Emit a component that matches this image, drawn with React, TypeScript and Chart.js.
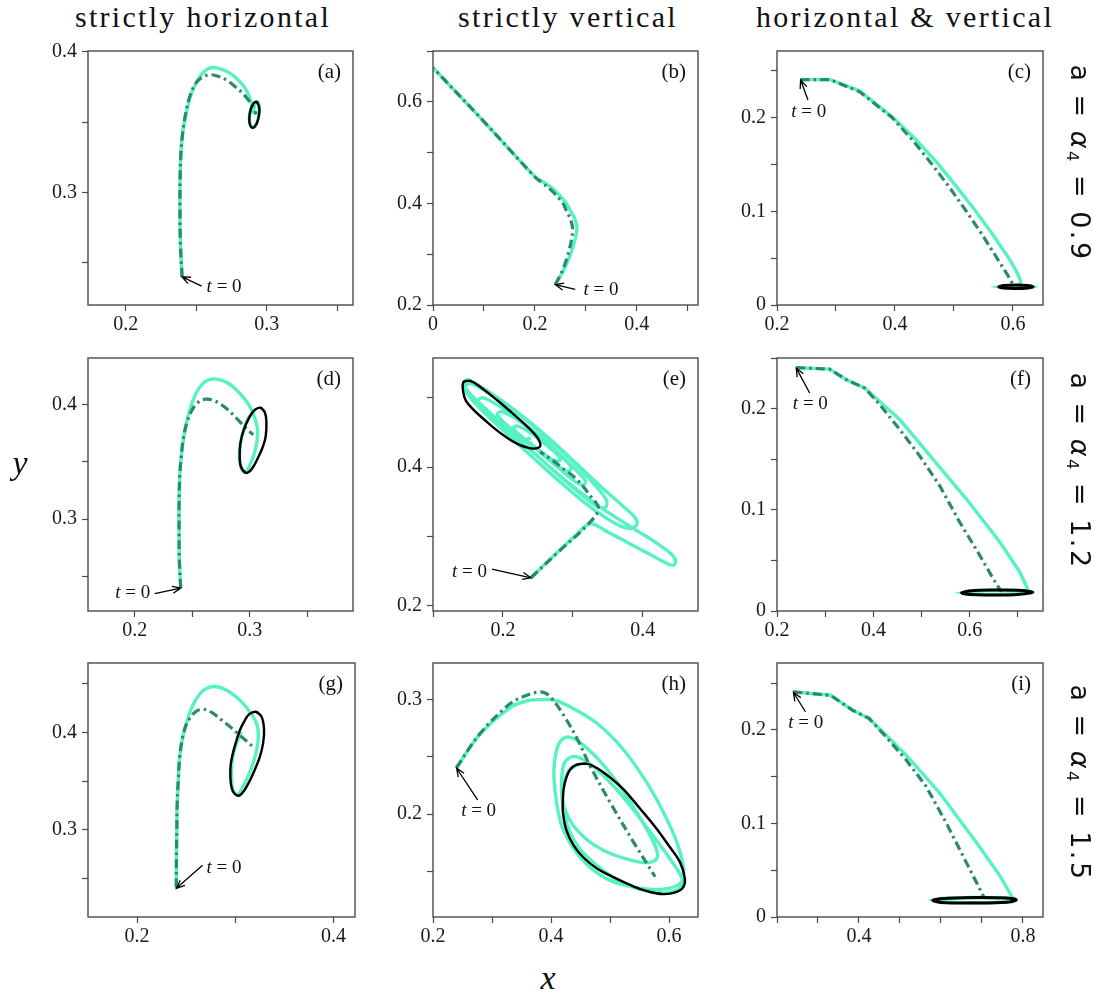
import React, { useEffect, useRef } from 'react';
import { Chart, registerables } from 'chart.js';
Chart.register(...registerables);

type P = [number, number];

// ---------------- data ----------------
const aLight: P[] = [[0.240,0.240],[0.2388,0.265],[0.2385,0.29],[0.2386,0.31],[0.2392,0.328],[0.2405,0.343],[0.2428,0.356],[0.2462,0.369],[0.2505,0.379],[0.2555,0.386],[0.2605,0.3888],[0.2665,0.3882],[0.273,0.3855],[0.279,0.381],[0.2842,0.375],[0.2878,0.368],[0.2895,0.362],[0.2905,0.357],[0.2915,0.3625],[0.2935,0.3645],[0.2948,0.3595],[0.2935,0.3510],[0.2912,0.3468],[0.2888,0.3470],[0.2877,0.3525],[0.2892,0.3605],[0.2922,0.3640]];
const aDark: P[] = [[0.240,0.240],[0.2388,0.265],[0.2385,0.29],[0.2386,0.31],[0.2392,0.328],[0.2405,0.343],[0.2425,0.356],[0.2455,0.3685],[0.2495,0.3775],[0.2545,0.3822],[0.2598,0.3838],[0.2655,0.3828],[0.2715,0.3800],[0.2775,0.3755],[0.2835,0.3700],[0.2880,0.3645],[0.2910,0.3595],[0.2925,0.3555]];
const aCycle: P[] = [[0.2929,0.3645],[0.2945,0.3615],[0.2948,0.3575],[0.2938,0.3515],[0.2918,0.3472],[0.2895,0.3462],[0.2880,0.3490],[0.2877,0.3535],[0.2886,0.3590],[0.2905,0.3632],[0.2929,0.3645],[0.2945,0.3615]];

const bLight: P[] = [[0.24,0.24],[0.256,0.268],[0.27,0.30],[0.279,0.33],[0.2825,0.35],[0.279,0.368],[0.27,0.385],[0.262,0.40],[0.24,0.425],[0.22,0.44],[0.2,0.453],[0.1,0.561],[0.0,0.667]];
const bDark: P[] = [[0.24,0.24],[0.254,0.268],[0.265,0.30],[0.272,0.33],[0.274,0.35],[0.27,0.368],[0.262,0.385],[0.255,0.40],[0.233,0.425],[0.215,0.44],[0.2,0.452],[0.1,0.561],[0.0,0.667]];

const cLight: P[] = [[0.240,0.2405],[0.290,0.2405],[0.340,0.2285],[0.3966,0.2000],[0.436,0.1760],[0.474,0.1500],[0.506,0.1250],[0.537,0.1000],[0.566,0.0750],[0.593,0.0500],[0.606,0.0360],[0.613,0.0260],[0.613,0.0215],[0.605,0.0200],[0.585,0.0198],[0.578,0.0192],[0.585,0.0184],[0.610,0.0180],[0.630,0.0186],[0.634,0.0194],[0.628,0.0205]];
const cDark: P[] = [[0.240,0.2405],[0.290,0.2405],[0.340,0.2275],[0.395,0.2000],[0.431,0.1750],[0.463,0.1500],[0.493,0.1250],[0.521,0.1000],[0.548,0.0750],[0.573,0.0500],[0.590,0.0330],[0.602,0.0200]];
const cCycle: P[] = [[0.576,0.0194],[0.585,0.0208],[0.605,0.0214],[0.625,0.0208],[0.634,0.0196],[0.625,0.0182],[0.605,0.0176],[0.585,0.0180],[0.576,0.0194],[0.585,0.0208]];

const dLight: P[] = [[0.240,0.240],[0.2388,0.265],[0.2386,0.29],[0.2386,0.315],[0.2392,0.338],[0.2405,0.355],[0.2428,0.372],[0.2462,0.389],[0.2505,0.403],[0.2555,0.4135],[0.2615,0.4200],[0.2680,0.4222],[0.2750,0.4212],[0.2820,0.4180],[0.2885,0.4125],[0.2950,0.4055],[0.3005,0.3975],[0.3045,0.3880],[0.3068,0.3780],[0.3065,0.3690],[0.3045,0.3590],[0.3010,0.3490],[0.2975,0.3420],[0.2950,0.3410],[0.2925,0.3450],[0.2912,0.3530],[0.2915,0.3630],[0.2935,0.3730],[0.2965,0.3830],[0.3000,0.3905]];
const dDark: P[] = [[0.240,0.240],[0.2388,0.265],[0.2386,0.29],[0.2386,0.315],[0.2392,0.338],[0.2405,0.355],[0.2425,0.372],[0.2460,0.386],[0.2507,0.3965],[0.2560,0.4025],[0.2620,0.4045],[0.2681,0.4037],[0.2740,0.4005],[0.2797,0.3965],[0.2855,0.3910],[0.2913,0.3850],[0.2970,0.3790],[0.3030,0.3735]];
const dCycle: P[] = [[0.3093,0.3971],[0.3130,0.3935],[0.3145,0.3850],[0.3139,0.3720],[0.3110,0.3620],[0.3070,0.3530],[0.3014,0.3432],[0.2971,0.3403],[0.2928,0.3447],[0.2913,0.3519],[0.2919,0.3663],[0.2948,0.3778],[0.3000,0.3893],[0.3043,0.3951],[0.3093,0.3971],[0.3130,0.3935]];

const eLight: P[] = [[0.240,0.240],[0.275,0.274],[0.305,0.302],[0.325,0.318],
[0.350,0.306],[0.380,0.290],[0.410,0.274],[0.432,0.262],[0.444,0.258],[0.447,0.265],[0.440,0.275],
[0.420,0.290],[0.395,0.306],[0.365,0.325],[0.335,0.345],[0.300,0.372],[0.265,0.402],[0.230,0.434],[0.195,0.466],[0.165,0.494],[0.148,0.512],[0.144,0.522],[0.150,0.526],
[0.170,0.515],[0.200,0.495],[0.235,0.468],[0.270,0.438],[0.305,0.405],[0.340,0.372],[0.370,0.345],[0.388,0.328],[0.392,0.318],[0.385,0.312],[0.370,0.314],
[0.345,0.328],[0.315,0.350],[0.280,0.380],[0.245,0.412],[0.210,0.444],[0.178,0.474],[0.155,0.498],[0.146,0.513],[0.152,0.521],
[0.175,0.510],[0.205,0.490],[0.240,0.462],[0.275,0.432],[0.310,0.398],[0.335,0.370],[0.348,0.352],[0.347,0.342],[0.335,0.343],
[0.310,0.362],[0.280,0.388],[0.245,0.420],[0.210,0.450],[0.185,0.472],[0.168,0.488],[0.165,0.497],[0.172,0.500],
[0.195,0.488],[0.225,0.466],[0.258,0.440],[0.288,0.412],[0.310,0.390],[0.318,0.380],[0.315,0.374],[0.302,0.380],
[0.278,0.400],[0.250,0.424],[0.222,0.447],[0.200,0.466],[0.192,0.476],[0.197,0.480],
[0.218,0.470],[0.245,0.450],[0.272,0.427],[0.292,0.407],[0.298,0.398],[0.292,0.394],[0.278,0.402],
[0.255,0.420],[0.232,0.440],[0.218,0.452],[0.216,0.458],[0.222,0.459],
[0.240,0.449],[0.262,0.432],[0.278,0.418],[0.282,0.410],[0.272,0.410],[0.255,0.422],[0.240,0.434],[0.234,0.440],[0.240,0.442]];
const eDark: P[] = [[0.240,0.240],[0.280,0.278],[0.320,0.3155],[0.3367,0.3394],[0.3248,0.3585],[0.3057,0.3823],[0.2850,0.3985],[0.2724,0.4086],[0.2533,0.4220]];
const eCycle: P[] = [[0.1438,0.5232],[0.1533,0.5246],[0.1700,0.5140],[0.1914,0.4969],[0.2100,0.4810],[0.2295,0.4635],[0.2440,0.4490],[0.2510,0.4396],[0.2533,0.4301],[0.2438,0.4267],[0.2320,0.4290],[0.2200,0.4339],[0.2050,0.4430],[0.1914,0.4530],[0.1740,0.4680],[0.1581,0.4826],[0.1470,0.4960],[0.1430,0.5100],[0.1438,0.5232],[0.1533,0.5246]];

const fLight: P[] = [[0.240,0.2405],[0.309,0.2390],[0.344,0.2285],[0.382,0.2203],[0.4547,0.1892],[0.5239,0.1499],[0.5931,0.1106],[0.6623,0.0681],[0.7038,0.0386],[0.7190,0.0230],[0.7200,0.0195],[0.700,0.0168],[0.650,0.0162],[0.600,0.0165],[0.585,0.0180],[0.600,0.0196],[0.650,0.0205],[0.700,0.0202],[0.728,0.0188]];
const fDark: P[] = [[0.240,0.2405],[0.309,0.2390],[0.344,0.2285],[0.382,0.2203],[0.4131,0.2039],[0.4547,0.1794],[0.4962,0.1532],[0.5377,0.1237],[0.5792,0.0877],[0.6208,0.0550],[0.6484,0.0321],[0.6657,0.0190]];
const fCycle: P[] = [[0.583,0.0180],[0.600,0.0198],[0.650,0.0207],[0.700,0.0204],[0.731,0.0185],[0.700,0.0164],[0.650,0.0158],[0.600,0.0162],[0.583,0.0180],[0.600,0.0198]];

const gLight: P[] = [[0.240,0.2407],[0.2401,0.2739],[0.2405,0.300],[0.2408,0.3247],[0.2420,0.352],[0.2435,0.3756],[0.2465,0.395],[0.2503,0.4095],[0.2550,0.4240],[0.2605,0.4349],[0.2670,0.4430],[0.2741,0.4468],[0.2830,0.4468],[0.2912,0.4434],[0.3000,0.4375],[0.3082,0.4298],[0.3140,0.4225],[0.3184,0.4163],[0.3222,0.4080],[0.3235,0.3993],[0.3230,0.3890],[0.3211,0.3790],[0.3170,0.3650],[0.3116,0.3519],[0.3060,0.3410],[0.3031,0.3366],[0.2990,0.3385],[0.2973,0.3417],[0.2963,0.3520],[0.2963,0.3654],[0.2980,0.3780],[0.3014,0.3892],[0.3060,0.4010]];
const gDark: P[] = [[0.240,0.2407],[0.2401,0.2739],[0.2405,0.300],[0.2408,0.3247],[0.2420,0.352],[0.2435,0.3760],[0.2465,0.3960],[0.2500,0.4080],[0.2537,0.4146],[0.2585,0.4205],[0.2639,0.4237],[0.2700,0.4235],[0.2776,0.4197],[0.2860,0.4130],[0.2946,0.4061],[0.3020,0.3995],[0.3082,0.3942],[0.3140,0.3890],[0.3184,0.3851]];
const gCycle: P[] = [[0.3211,0.4214],[0.3265,0.4170],[0.3293,0.4044],[0.3285,0.3900],[0.3252,0.3756],[0.3200,0.3620],[0.3130,0.3470],[0.3048,0.3356],[0.2995,0.3370],[0.2963,0.3434],[0.2950,0.3550],[0.2956,0.3688],[0.2995,0.3860],[0.3048,0.4027],[0.3100,0.4130],[0.3143,0.4190],[0.3211,0.4214],[0.3265,0.4170]];

const hLight: P[] = [[0.2395,0.2403],[0.2801,0.2700],[0.3309,0.2930],[0.3600,0.2990],[0.3874,0.3000],[0.4071,0.2994],[0.4325,0.2937],[0.4777,0.2793],[0.5228,0.2562],[0.5623,0.2274],[0.5905,0.2014],[0.6131,0.1755],[0.6244,0.1524],[0.6216,0.1409],[0.6018,0.1352],[0.5700,0.1340],[0.5400,0.1360],[0.5000,0.1420],[0.4650,0.1540],[0.4380,0.1700],[0.4180,0.1900],[0.4080,0.2150],[0.4050,0.2400],[0.4120,0.2600],[0.4240,0.2669],[0.4380,0.2660],[0.4550,0.2600],[0.4800,0.2480],[0.5100,0.2290],[0.5400,0.2060],[0.5640,0.1850],[0.5780,0.1700],[0.5800,0.1620],[0.5700,0.1580],[0.5500,0.1580],[0.5200,0.1620],[0.4900,0.1680],[0.4600,0.1780],[0.4350,0.1920],[0.4200,0.2100],[0.4180,0.2300],[0.4230,0.2450],[0.4382,0.2504],[0.4600,0.2460],[0.4900,0.2330],[0.5300,0.2100],[0.5700,0.1830],[0.6000,0.1620],[0.6180,0.1480],[0.6230,0.1400],[0.6150,0.1340],[0.5950,0.1310],[0.5600,0.1330],[0.5200,0.1400],[0.4800,0.1540],[0.4450,0.1720],[0.4250,0.1950],[0.4200,0.2200],[0.4300,0.2380],[0.4450,0.2435]];
const hDark: P[] = [[0.2395,0.2403],[0.2801,0.2706],[0.3309,0.2965],[0.3600,0.3040],[0.3789,0.3066],[0.3900,0.3058],[0.4015,0.3009],[0.4212,0.2865],[0.4438,0.2663],[0.4664,0.2418],[0.5002,0.2101],[0.5397,0.1755],[0.5764,0.1452]];
const hCycle: P[] = [[0.4438,0.2432],[0.4600,0.2440],[0.4777,0.2403],[0.5000,0.2320],[0.5228,0.2216],[0.5520,0.2040],[0.5792,0.1870],[0.6000,0.1720],[0.6183,0.1582],[0.6267,0.1438],[0.6240,0.1360],[0.6131,0.1320],[0.5905,0.1300],[0.5600,0.1330],[0.5341,0.1380],[0.5050,0.1450],[0.4777,0.1524],[0.4550,0.1620],[0.4382,0.1726],[0.4260,0.1860],[0.4201,0.2014],[0.4200,0.2120],[0.4212,0.2216],[0.4260,0.2320],[0.4325,0.2390],[0.4438,0.2432],[0.4600,0.2440]];

const iLight: P[] = [[0.240,0.2406],[0.3306,0.2370],[0.3837,0.2212],[0.4245,0.2123],[0.5143,0.1735],[0.5959,0.1330],[0.6857,0.0801],[0.7429,0.0448],[0.7755,0.0201],[0.760,0.0160],[0.700,0.0152],[0.640,0.0155],[0.590,0.0165],[0.581,0.0180],[0.600,0.0198],[0.680,0.0208],[0.750,0.0205],[0.783,0.0190]];
const iDark: P[] = [[0.240,0.2406],[0.3306,0.2370],[0.3837,0.2212],[0.4245,0.2123],[0.4653,0.1929],[0.5143,0.1683],[0.5633,0.1400],[0.6122,0.1012],[0.6612,0.0589],[0.6939,0.0307],[0.7061,0.0201]];
const iCycle: P[] = [[0.580,0.0178],[0.600,0.0196],[0.680,0.0208],[0.760,0.0203],[0.784,0.0185],[0.760,0.0158],[0.680,0.0150],[0.600,0.0156],[0.580,0.0178],[0.600,0.0196]];

// tick values
const ticksA = { x: [0.2, 0.25, 0.3, 0.35], xl: [0.2, 0.3], y: [0.25, 0.3, 0.35, 0.4], yl: [0.3, 0.4] };
const ticksB = { x: [0, 0.1, 0.2, 0.3, 0.4, 0.5], xl: [0, 0.2, 0.4], y: [0.2, 0.3, 0.4, 0.5, 0.6, 0.7], yl: [0.2, 0.4, 0.6] };
const ticksC = { x: [0.2, 0.3, 0.4, 0.5, 0.6], xl: [0.2, 0.4, 0.6], y: [0, 0.05, 0.1, 0.15, 0.2, 0.25], yl: [0, 0.1, 0.2] };
const ticksD = { x: [0.2, 0.25, 0.3, 0.35], xl: [0.2, 0.3], y: [0.25, 0.3, 0.35, 0.4], yl: [0.3, 0.4] };
const ticksE = { x: [0.1, 0.2, 0.3, 0.4], xl: [0.2, 0.4], y: [0.2, 0.3, 0.4, 0.5], yl: [0.2, 0.4] };
const ticksF = { x: [0.2, 0.3, 0.4, 0.5, 0.6, 0.7], xl: [0.2, 0.4, 0.6], y: [0, 0.05, 0.1, 0.15, 0.2, 0.25], yl: [0, 0.1, 0.2] };
const ticksG = { x: [0.2, 0.3, 0.4], xl: [0.2, 0.4], y: [0.25, 0.3, 0.35, 0.4, 0.45], yl: [0.3, 0.4] };
const ticksH = { x: [0.2, 0.3, 0.4, 0.5, 0.6], xl: [0.2, 0.4, 0.6], y: [0.15, 0.2, 0.25, 0.3], yl: [0.2, 0.3] };
const ticksI = { x: [0.2, 0.3, 0.4, 0.5, 0.6, 0.7, 0.8], xl: [0.4, 0.8], y: [0, 0.05, 0.1, 0.15, 0.2, 0.25], yl: [0, 0.1, 0.2] };

const columnTitles = ['strictly horizontal', 'strictly vertical', 'horizontal & vertical'];
const rowValues = ['0.9', '1.2', '1.5'];

// ---------------- styles / layout ----------------
const LIGHT = '#56f2c4';
const DARK = '#2b8a6c';
const FRAME = '#4a4a4a';
const SERIF = '"Liberation Serif", "DejaVu Serif", serif';

type Note = { tip: P; tail: P; text: P; align: 'left' | 'right' | 'center' };
type Spec = {
  letter: string;
  rect: [number, number, number, number];
  xr: [number, number];
  yr: [number, number];
  t: { x: number[]; xl: number[]; y: number[]; yl: number[] };
  light: P[]; dark: P[]; cycle: P[] | null;
  smooth: boolean;
  note: Note;
};

const specs: Spec[] = [
  { letter: 'a', rect: [88, 49, 353, 305], xr: [0.1733, 0.3612], yr: [0.22, 0.4007], t: ticksA, light: aLight, dark: aDark, cycle: aCycle, smooth: true,
    note: { tip: [0.24, 0.24], tail: [0.2539, 0.2334], text: [0.2574, 0.2329], align: 'left' } },
  { letter: 'b', rect: [433, 49, 698, 305], xr: [0, 0.52], yr: [0.2, 0.7], t: ticksB, light: bLight, dark: bDark, cycle: null, smooth: true,
    note: { tip: [0.24, 0.24], tail: [0.279, 0.2306], text: [0.2954, 0.229], align: 'left' } },
  { letter: 'c', rect: [777, 49, 1043, 305], xr: [0.2, 0.651], yr: [0, 0.271], t: ticksC, light: cLight, dark: cDark, cycle: cCycle, smooth: false,
    note: { tip: [0.24, 0.24], tail: [0.2525, 0.2187], text: [0.2537, 0.2063], align: 'center' } },
  { letter: 'd', rect: [88, 356, 353, 611], xr: [0.1594, 0.3898], yr: [0.22, 0.4404], t: ticksD, light: dLight, dark: dDark, cycle: dCycle, smooth: true,
    note: { tip: [0.24, 0.24], tail: [0.2174, 0.2352], text: [0.2136, 0.236], align: 'right' } },
  { letter: 'e', rect: [433, 356, 698, 611], xr: [0.1, 0.479], yr: [0.192, 0.5576], t: ticksE, light: eLight, dark: eDark, cycle: eCycle, smooth: true,
    note: { tip: [0.24, 0.24], tail: [0.1843, 0.2525], text: [0.1771, 0.2487], align: 'right' } },
  { letter: 'f', rect: [777, 356, 1043, 611], xr: [0.2, 0.752], yr: [0, 0.25], t: ticksF, light: fLight, dark: fDark, cycle: fCycle, smooth: false,
    note: { tip: [0.24, 0.24], tail: [0.2678, 0.2154], text: [0.2692, 0.2049], align: 'center' } },
  { letter: 'g', rect: [88, 661, 355, 917], xr: [0.15, 0.422], yr: [0.2105, 0.4715], t: ticksG, light: gLight, dark: gDark, cycle: gCycle, smooth: true,
    note: { tip: [0.24, 0.24], tail: [0.2667, 0.2637], text: [0.2707, 0.261], align: 'left' } },
  { letter: 'h', rect: [433, 661, 698, 917], xr: [0.2, 0.649], yr: [0.11, 0.332], t: ticksH, light: hLight, dark: hDark, cycle: hCycle, smooth: true,
    note: { tip: [0.24, 0.24], tail: [0.2756, 0.2124], text: [0.2773, 0.2029], align: 'center' } },
  { letter: 'i', rect: [777, 661, 1043, 917], xr: [0.2, 0.849], yr: [0, 0.2715], t: ticksI, light: iLight, dark: iDark, cycle: iCycle, smooth: false,
    note: { tip: [0.24, 0.24], tail: [0.2694, 0.2194], text: [0.2702, 0.207], align: 'center' } },
];

const PAD_L = 10, Y_W = 50, PAD_T = 15, PAD_R = 15, X_H = 35, PAD_B = 5;

const near = (arr: number[], v: number) => arr.some((a) => Math.abs(a - v) < 1e-9);
const fmt = (v: number) => (Math.abs(v) < 1e-12 ? '0' : String(Math.round(v * 100) / 100));
const toXY = (pts: P[]) => pts.map(([x, y]) => ({ x, y }));

function Panel({ spec }: { spec: Spec }) {
  const ref = useRef<HTMLCanvasElement>(null);
  const [L, T, R, B] = spec.rect;
  const width = R - L + Y_W + PAD_L + PAD_R;
  const height = B - T + PAD_T + X_H + PAD_B;

  useEffect(() => {
    if (!ref.current) return;
    const overlay = {
      id: 'overlay' + spec.letter,
      afterDatasetsDraw(chart: any) {
        const ctx: CanvasRenderingContext2D = chart.ctx;
        const a = chart.chartArea;
        const xs = chart.scales.x, ys = chart.scales.y;
        ctx.save();
        ctx.strokeStyle = FRAME;
        ctx.lineWidth = 1.4;
        ctx.strokeRect(a.left, a.top, a.right - a.left, a.bottom - a.top);
        ctx.fillStyle = '#111';
        ctx.font = '21px ' + SERIF;
        ctx.textAlign = 'right';
        ctx.textBaseline = 'top';
        ctx.fillText('(' + spec.letter + ')', a.right - 12, a.top + 11);
        const n = spec.note;
        const tx = xs.getPixelForValue(n.tip[0]), ty = ys.getPixelForValue(n.tip[1]);
        const sx = xs.getPixelForValue(n.tail[0]), sy = ys.getPixelForValue(n.tail[1]);
        ctx.strokeStyle = '#000';
        ctx.lineWidth = 1.3;
        ctx.beginPath();
        ctx.moveTo(sx, sy);
        ctx.lineTo(tx, ty);
        const ang = Math.atan2(ty - sy, tx - sx);
        const hl = 9;
        ctx.moveTo(tx - hl * Math.cos(ang - 0.4), ty - hl * Math.sin(ang - 0.4));
        ctx.lineTo(tx, ty);
        ctx.lineTo(tx - hl * Math.cos(ang + 0.4), ty - hl * Math.sin(ang + 0.4));
        ctx.stroke();
        const px = xs.getPixelForValue(n.text[0]), py = ys.getPixelForValue(n.text[1]);
        const fItal = 'italic 19px ' + SERIF;
        const fReg = '19px ' + SERIF;
        ctx.font = fItal;
        const w1 = ctx.measureText('t').width;
        ctx.font = fReg;
        const w2 = ctx.measureText(' = 0').width;
        const total = w1 + w2;
        let x0 = px;
        if (n.align === 'right') x0 = px - total;
        else if (n.align === 'center') x0 = px - total / 2;
        ctx.textAlign = 'left';
        ctx.textBaseline = 'middle';
        ctx.fillStyle = '#111';
        ctx.font = fItal;
        ctx.fillText('t', x0, py);
        ctx.font = fReg;
        ctx.fillText(' = 0', x0 + w1, py);
        ctx.restore();
      },
    };

    const tension = spec.smooth ? 0.35 : 0;
    const datasets: any[] = [];
    if (spec.cycle) {
      datasets.push({ data: toXY(spec.cycle), showLine: true, borderColor: '#000', borderWidth: spec.smooth ? 2.4 : 3, pointRadius: 0, tension: 0.4, fill: false });
    }
    datasets.push({ data: toXY(spec.dark), showLine: true, borderColor: DARK, borderWidth: 3.2, borderDash: [9, 4, 2.5, 4], pointRadius: 0, tension, fill: false });
    datasets.push({ data: toXY(spec.light), showLine: true, borderColor: LIGHT, borderWidth: 3.4, pointRadius: 0, tension, fill: false });

    const tickFont = { family: SERIF, size: 20 };
    const chart = new Chart(ref.current, {
      type: 'scatter',
      data: { datasets },
      options: {
        responsive: false,
        animation: false,
        events: [],
        layout: { padding: { left: PAD_L, top: PAD_T, right: PAD_R, bottom: PAD_B } },
        plugins: { legend: { display: false }, tooltip: { enabled: false } },
        scales: {
          x: {
            type: 'linear',
            min: spec.xr[0],
            max: spec.xr[1],
            afterFit: (s: any) => { s.height = X_H; },
            afterBuildTicks: (s: any) => { s.ticks = spec.t.x.map((v) => ({ value: v })); },
            ticks: {
              autoSkip: false, maxRotation: 0, padding: 2, color: '#1a1a1a', font: tickFont,
              callback: (v: any) => (near(spec.t.xl, Number(v)) ? fmt(Number(v)) : ''),
            },
            grid: { drawOnChartArea: false, drawTicks: true, tickLength: 6, tickColor: FRAME, tickWidth: 1.2 },
            border: { display: false },
          },
          y: {
            type: 'linear',
            min: spec.yr[0],
            max: spec.yr[1],
            afterFit: (s: any) => { s.width = Y_W; },
            afterBuildTicks: (s: any) => { s.ticks = spec.t.y.map((v) => ({ value: v })); },
            ticks: {
              autoSkip: false, padding: 5, color: '#1a1a1a', font: tickFont,
              callback: (v: any) => (near(spec.t.yl, Number(v)) ? fmt(Number(v)) : ''),
            },
            grid: { drawOnChartArea: false, drawTicks: true, tickLength: 6, tickColor: FRAME, tickWidth: 1.2 },
            border: { display: false },
          },
        },
      } as any,
      plugins: [overlay],
    });
    return () => chart.destroy();
  }, []);

  return (
    <canvas
      ref={ref}
      width={width}
      height={height}
      style={{ position: 'absolute', left: L - Y_W - PAD_L, top: T - PAD_T, width, height, display: 'block' }}
    />
  );
}

export default function App() {
  const titleX = [203, 568, 905];
  const rowY = [163, 471, 783];
  return (
    <div style={{ position: 'absolute', left: 0, top: 0, width: 1094, height: 997, background: '#fff', overflow: 'hidden' }}>
      {columnTitles.map((t, i) => (
        <div key={t} style={{ position: 'absolute', left: titleX[i], top: 2, transform: 'translateX(-50%)', whiteSpace: 'nowrap',
          fontFamily: SERIF, fontSize: 30, letterSpacing: 2.3, lineHeight: '30px', color: '#111' }}>{t}</div>
      ))}
      {specs.map((s) => <Panel key={s.letter} spec={s} />)}
      {rowValues.map((v, i) => (
        <div key={v} style={{ position: 'absolute', left: 1076, top: rowY[i], transform: 'translate(-50%, -50%) rotate(90deg)', whiteSpace: 'nowrap',
          fontFamily: '"DejaVu Sans", sans-serif', fontSize: 27, letterSpacing: 2.5, lineHeight: '30px', color: '#111' }}>
          a = <span style={{ fontStyle: 'italic' }}>α</span><sub style={{ fontSize: '60%', verticalAlign: '-0.3em' }}>4</sub> = {v}
        </div>
      ))}
      <div style={{ position: 'absolute', left: 20, top: 463, transform: 'translate(-50%, -50%)', fontFamily: SERIF, fontStyle: 'italic', fontSize: 34, lineHeight: '34px', color: '#111' }}>y</div>
      <div style={{ position: 'absolute', left: 548, top: 978, transform: 'translate(-50%, -50%)', fontFamily: SERIF, fontStyle: 'italic', fontSize: 34, lineHeight: '34px', color: '#111' }}>x</div>
    </div>
  );
}
